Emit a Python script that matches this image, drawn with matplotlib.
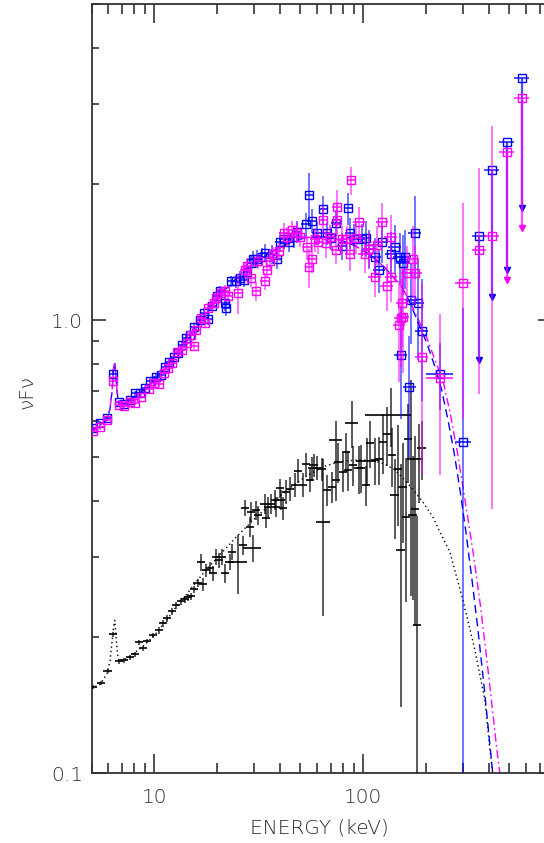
import numpy as np
import matplotlib
matplotlib.use("Agg")
import matplotlib.pyplot as plt
from matplotlib.ticker import NullFormatter, LogLocator

# ---------------- data (energy keV, nuFnu) ----------------
blue_E = [5.09, 5.50, 5.94, 6.35, 6.78, 7.16, 7.65, 8.06, 8.52, 9.03,
          9.56, 10.2, 10.8, 11.3, 11.8, 12.4, 13.0, 13.6, 14.2, 14.8,
          15.5, 16.5, 17.3, 18.1, 18.9, 20.0, 20.7, 21.7, 22.1, 23.3,
          24.6, 25.7, 26.8, 27.8, 29.1, 29.7, 30.9, 32.6, 33.8, 36.5,
          38.8, 39.9, 41.5, 43.9, 46.5, 48.2, 53.2, 55.2, 56.7, 59.9,
          64.4, 66.7, 70.4, 73.9, 78.9, 84.8, 86.2, 90.1, 98.1, 102.9,
          106.9, 113.8, 119.3, 123.2, 136.2, 141.2, 149.9, 154.4, 158.3, 150.9,
          166.2, 169.8, 176.4, 182.4, 190.7, 233.7, 300.8]
blue_F = [0.578, 0.593, 0.609, 0.762, 0.660, 0.654, 0.667, 0.690, 0.690, 0.709,
          0.736, 0.751, 0.758, 0.790, 0.811, 0.829, 0.849, 0.883, 0.913, 0.929,
          0.969, 1.00, 1.04, 1.006, 1.077, 1.13, 1.16, 1.09, 1.064, 1.22,
          1.22, 1.24, 1.23, 1.28, 1.34, 1.37, 1.37, 1.38, 1.41, 1.40,
          1.37, 1.49, 1.51, 1.49, 1.53, 1.57, 1.63, 1.89, 1.66, 1.56,
          1.76, 1.56, 1.52, 1.64, 1.46, 1.77, 1.56, 1.51, 1.51, 1.52,
          1.44, 1.38, 1.29, 1.49, 1.40, 1.45, 1.38, 1.34, 1.38, 0.839,
          0.711, 1.11, 1.56, 1.09, 0.948, 0.762, 0.538]
blue_ferr = ([0.012] * 10 + [0.015] * 10 +
             [0.02, 0.02, 0.025, 0.03, 0.025, 0.025, 0.025, 0.04, 0.04, 0.03] +
             [0.035, 0.035, 0.035, 0.04, 0.04, 0.04, 0.045, 0.045, 0.045, 0.05] +
             [0.05, 0.05, 0.05, 0.05, 0.055, 0.055, 0.06, 0.12, 0.06, 0.06] +
             [0.07, 0.06, 0.06, 0.07, 0.07, 0.08, 0.08, 0.08, 0.08, 0.09] +
             [0.1, 0.1, 0.11, 0.1, 0.12, 0.12, 0.13, 0.15, 0.15, 0.28] +
             [0.3, 0.2, 0.21, 0.25, 0.3, 0.17, 0.98])
blue_xfrac = [0.045] * 30 + [0.05] * 30 + [0.07] * 15 + [0.15, 0.09]

mag_E = [5.09, 5.51, 5.96, 6.35, 6.76, 7.14, 7.63, 8.06, 8.67, 9.40,
         10.0, 10.5, 11.1, 11.6, 12.2, 12.9, 13.5, 14.4, 15.0, 15.5,
         15.9, 16.7, 17.4, 18.1, 19.2, 19.8, 20.9, 21.7, 22.5, 25.1,
         27.0, 27.8, 29.1, 30.8, 31.4, 33.8, 34.5, 35.8, 37.1, 39.3,
         41.5, 43.2, 45.4, 48.0, 49.8, 53.6, 55.2, 56.7, 58.7, 60.9,
         64.4, 66.5, 69.3, 74.5, 75.1, 73.9, 78.9, 83.4, 85.9, 87.5,
         92.7, 95.6, 101.7, 106.9, 113.8, 115.7, 123.2, 129.7, 135.0, 136.2,
         148.4, 150.9, 153.6, 155.3, 162.2, 173.1, 177.6, 190.7, 233.7, 300.8,
         358.9, 411.6]
mag_F = [0.570, 0.580, 0.602, 0.735, 0.650, 0.647, 0.661, 0.658, 0.678, 0.705,
         0.726, 0.724, 0.764, 0.784, 0.804, 0.853, 0.860, 0.890, 0.929, 0.878,
         0.953, 1.01, 0.986, 1.064, 1.09, 1.12, 1.15, 1.16, 1.13, 1.15,
         1.29, 1.32, 1.24, 1.16, 1.35, 1.22, 1.29, 1.35, 1.40, 1.42,
         1.56, 1.53, 1.58, 1.56, 1.53, 1.45, 1.31, 1.37, 1.51, 1.49,
         1.67, 1.48, 1.53, 1.78, 1.67, 1.43, 1.51, 1.51, 1.40, 2.04,
         1.52, 1.65, 1.40, 1.44, 1.25, 1.47, 1.65, 1.19, 1.53, 1.25,
         0.977, 1.01, 1.09, 1.02, 1.27, 1.37, 1.27, 0.832, 0.745, 1.209,
         1.43, 1.533]
mag_ferr = ([0.012] * 10 + [0.015] * 10 +
            [0.02, 0.025, 0.025, 0.025, 0.025, 0.03, 0.03, 0.03, 0.03, 0.1] +
            [0.04, 0.04, 0.045, 0.05, 0.04, 0.045, 0.04, 0.04, 0.04, 0.045] +
            [0.05, 0.05, 0.05, 0.05, 0.05, 0.06, 0.1, 0.07, 0.06, 0.06] +
            [0.07, 0.07, 0.06, 0.09, 0.08, 0.07, 0.07, 0.07, 0.08, 0.07] +
            [0.08, 0.08, 0.09, 0.09, 0.1, 0.1, 0.1, 0.12, 0.12, 0.12] +
            [0.25, 0.22, 0.2, 0.25, 0.15, 0.18, 0.15, 0.45, 0.39, 0.5] +
            [0.52, 0.75])
mag_xfrac = [0.045] * 30 + [0.05] * 30 + [0.07] * 18 + [0.15, 0.09, 0.08, 0.08]

# upper limits
blue_ul_E = [358.9, 411.6, 485.6, 574.6]
blue_ul_F = [1.533, 2.153, 2.474, 3.44]
blue_ul_end = [0.818, 1.129, 1.293, 1.773]
mag_ul_E = [485.6, 574.6]
mag_ul_F = [2.356, 3.101]
mag_ul_end = [1.229, 1.602]

black_E = [5.09, 5.55, 5.97, 6.35, 6.76, 7.16, 7.63, 8.06, 8.46, 8.83,
           9.26, 9.86, 10.5, 11.0, 11.5, 12.2, 12.7, 13.4, 14.0, 14.5,
           15.0, 15.5, 16.1, 16.8, 17.1, 17.7, 18.4, 19.1, 19.8, 20.4,
           21.1, 21.7, 22.9, 23.5, 25.1, 26.6, 27.1, 28.6, 29.1, 29.5,
           30.8, 31.4, 33.7, 34.4, 34.9, 36.1, 37.7, 38.2, 39.8, 40.4,
           41.3, 42.8, 44.6, 47.1, 48.9, 51.7, 53.2, 55.6, 56.7, 57.8,
           59.9, 63.2, 64.4, 66.8, 70.6, 73.9, 74.4, 76.0, 80.3, 82.6,
           84.9, 88.0, 89.5, 94.9, 97.8, 103.4, 104.0, 107.7, 113.8, 119.1,
           124.9, 130.4, 135.9, 137.5, 141.2, 146.1, 150.9, 154.1, 159.9, 164.1,
           170.0, 172.2, 176.4, 181.2, 184.9, 189.9]
black_F = [0.155, 0.158, 0.168, 0.2025, 0.1765, 0.1774, 0.180, 0.183, 0.1944, 0.1886,
           0.1957, 0.2014, 0.2067, 0.2145, 0.2197, 0.2277, 0.2348, 0.2396, 0.2420, 0.2448,
           0.2457, 0.2547, 0.2630, 0.2921, 0.2612, 0.2805, 0.2834, 0.2762, 0.3001, 0.2951,
           0.3001, 0.2762, 0.2926, 0.3079, 0.2926, 0.3187, 0.3847, 0.3498, 0.3776, 0.3139,
           0.381, 0.371, 0.393, 0.366, 0.388, 0.393, 0.401, 0.388, 0.426, 0.401,
           0.385, 0.418, 0.425, 0.433, 0.465, 0.433, 0.481, 0.444, 0.471, 0.479,
           0.473, 0.469, 0.358, 0.422, 0.429, 0.544, 0.444, 0.487, 0.463, 0.513,
           0.467, 0.593, 0.479, 0.471, 0.473, 0.433, 0.490, 0.535, 0.491, 0.493,
           0.539, 0.560, 0.618, 0.504, 0.411, 0.469, 0.311, 0.429, 0.368, 0.546,
           0.493, 0.371, 0.384, 0.212, 0.493, 0.522]
black_ferr = ([0.012] * 12 + [0.018] * 11 + [0.045] +
              [0.035, 0.035, 0.03, 0.04, 0.04, 0.04, 0.04, 0.05, 0.04, 0.04] +
              [0.15, 0.05, 0.04, 0.05, 0.05, 0.07] +
              [0.05] * 10 + [0.06] * 12 + [0.38] +
              [0.08, 0.08, 0.1, 0.1, 0.1, 0.1, 0.1, 0.1, 0.12, 0.1, 0.12, 0.12] +
              [0.1, 0.12, 0.12, 0.12, 0.12, 0.15, 0.15, 0.15, 0.15, 0.2, 0.25] +
              [0.55, 0.25, 0.35, 0.2, 0.5, 0.35, 0.45, 0.74, 0.2, 0.15])
black_xfrac = ([0.045] * 34 + [0.1] + [0.045] * 4 + [0.1] + [0.045] * 22 + [0.075] +
               [0.045] * 2 + [0.075] + [0.045] * 5 + [0.075] + [0.045] * 4 + [0.11] +
               [0.045] * 5 + [0.25] + [0.045] * 13)

# model curves
blue_model_E = [4.98, 5.50, 5.94, 6.14, 6.28, 6.38, 6.45, 6.52, 6.63, 6.74,
                7.24, 8.08, 9.03, 10.08, 11.25, 12.56, 14.03, 15.66, 17.48, 19.52,
                21.79, 24.33, 27.16, 30.33, 33.86, 37.80, 42.21, 47.12, 52.61, 58.74,
                65.58, 73.21, 81.75, 91.27, 101.9, 113.8, 127.0, 138.8, 152.7, 167.3,
                183.4, 201.2, 220.4, 237.2, 254.3, 271.7, 290.2, 310.0, 331.3, 353.9,
                378.1, 399.5, 417.5]
blue_model_F = [0.567, 0.587, 0.605, 0.640, 0.702, 0.785, 0.809, 0.769, 0.695, 0.654,
                0.657, 0.677, 0.705, 0.739, 0.785, 0.835, 0.892, 0.958, 1.028, 1.099,
                1.168, 1.229, 1.287, 1.340, 1.389, 1.432, 1.469, 1.499, 1.522, 1.530,
                1.530, 1.514, 1.492, 1.462, 1.418, 1.368, 1.307, 1.248, 1.186, 1.093,
                0.987, 0.892, 0.789, 0.702, 0.602, 0.512, 0.422, 0.340, 0.267, 0.207,
                0.156, 0.121, 0.0987]
mag_model_E = [4.98, 5.50, 5.94, 6.14, 6.28, 6.38, 6.45, 6.52, 6.63, 6.74,
               7.24, 8.08, 9.03, 10.08, 11.25, 12.56, 14.03, 15.66, 17.48, 19.52,
               21.79, 24.33, 27.16, 30.33, 33.86, 37.80, 42.21, 47.12, 52.61, 58.74,
               65.58, 73.21, 81.75, 91.27, 101.9, 113.8, 127.0, 138.8, 152.7, 167.3,
               183.4, 201.2, 220.4, 241.4, 259.9, 280.8, 299.9, 320.4, 342.3, 365.8,
               390.7, 413.0, 436.3, 453.5]
mag_model_F = [0.567, 0.587, 0.605, 0.640, 0.702, 0.785, 0.809, 0.769, 0.695, 0.654,
               0.657, 0.677, 0.705, 0.739, 0.785, 0.835, 0.892, 0.958, 1.028, 1.099,
               1.168, 1.229, 1.287, 1.340, 1.389, 1.432, 1.469, 1.499, 1.522, 1.530,
               1.530, 1.514, 1.492, 1.462, 1.418, 1.368, 1.307, 1.248, 1.186, 1.099,
               1.003, 0.915, 0.818, 0.731, 0.627, 0.517, 0.428, 0.353, 0.288, 0.229,
               0.177, 0.141, 0.112, 0.0972]
black_model_E = [4.98, 5.50, 5.94, 6.14, 6.28, 6.38, 6.46, 6.56, 6.67, 6.78,
                 7.24, 8.08, 9.03, 10.08, 11.25, 12.56, 14.03, 15.66, 17.48, 19.52,
                 21.79, 24.33, 27.16, 30.33, 33.86, 37.80, 42.21, 47.12, 52.61, 58.74,
                 65.58, 73.21, 81.75, 91.27, 101.9, 113.8, 127.0, 141.8, 158.3, 176.8,
                 193.1, 215.5, 232.8, 259.9, 299.9, 342.3, 382.2, 403.9, 417.5]
black_model_F = [0.1538, 0.1570, 0.1660, 0.1774, 0.1964, 0.2109, 0.2175, 0.1984, 0.1820, 0.1764,
                 0.1782, 0.1846, 0.1924, 0.2024, 0.2153, 0.2312, 0.2457, 0.2626, 0.2791, 0.2953,
                 0.3122, 0.3301, 0.3475, 0.3656, 0.3827, 0.4008, 0.4175, 0.4348, 0.4506, 0.4645,
                 0.4765, 0.4839, 0.4888, 0.4913, 0.4913, 0.4888, 0.4815, 0.4670, 0.4437, 0.4175,
                 0.3967, 0.3674, 0.3404, 0.3074, 0.2407, 0.1866, 0.1447, 0.1121, 0.0987]

x_ticks = [10, 100]
x_ticklabels = ["10", "100"]
y_ticks = [0.1, 1.0]
y_ticklabels = ["0.1", "1.0"]

# ---------------- plotting ----------------
plt.rcParams["font.family"] = ["DejaVu Sans"]
TXT = "#2a2a2a"

fig = plt.figure(figsize=(5.44, 8.43), dpi=100)
ax = fig.add_axes([0.1682, 0.0830, 0.8465, 0.9122])
ax.set_xscale("log")
ax.set_yscale("log")


def data_set(E, F, ferr, xfrac, color, square, err_alpha, z):
    E = np.asarray(E, float)
    F = np.asarray(F, float)
    ferr = np.asarray(ferr, float)
    xfrac = np.asarray(xfrac, float)
    assert len(E) == len(F) == len(ferr) == len(xfrac), (len(E), len(F), len(ferr), len(xfrac))
    dF = F * ferr
    lo = np.minimum(dF, F - 0.02)
    dE = E * xfrac
    ax.errorbar(E, F, yerr=[lo, dF], fmt="none", ecolor=color, elinewidth=1.4,
                alpha=err_alpha, capsize=0, zorder=z)
    ax.errorbar(E, F, xerr=dE, fmt="none", ecolor=color, elinewidth=1.4,
                alpha=min(1.0, err_alpha + 0.2), capsize=0, zorder=z)
    if square:
        ax.plot(E, F, ls="none", marker="s", ms=5.2, mfc="none", mec=color,
                mew=1.0, zorder=z + 0.5)


def upper_limits(E, F, end, color, z):
    E = np.asarray(E, float)
    F = np.asarray(F, float)
    end = np.asarray(end, float)
    ax.vlines(E, end, F, color=color, lw=1.6, alpha=0.7, zorder=z)
    ax.hlines(F, E * 0.92, E * 1.08, color=color, lw=1.4, alpha=0.7, zorder=z)
    ax.plot(E, F, ls="none", marker="s", ms=5.2, mfc="none", mec=color, mew=1.0, zorder=z + 0.5)
    ax.plot(E, end, ls="none", marker="v", ms=5, color=color, zorder=z + 0.5)


# models
ax.plot(black_model_E, black_model_F, color="black", lw=1.0, dashes=(1, 2.2), zorder=2)
ax.plot(blue_model_E, blue_model_F, color="#0000ff", lw=1.0, dashes=(6, 3.5), zorder=2)
ax.plot(mag_model_E, mag_model_F, color="#ff00ff", lw=1.0, dashes=(6, 2.5, 1.2, 2.5), zorder=2)

# data
data_set(black_E, black_F, black_ferr, black_xfrac, "black", False, 0.65, 3)
data_set(blue_E, blue_F, blue_ferr, blue_xfrac, "#0000ff", True, 0.55, 4)
data_set(mag_E, mag_F, mag_ferr, mag_xfrac, "#ff00ff", True, 0.55, 5)
upper_limits(blue_ul_E, blue_ul_F, blue_ul_end, "#0000ff", 4)
upper_limits(mag_ul_E, mag_ul_F, mag_ul_end, "#ff00ff", 5)

ax.set_xlim(5, 800)
ax.set_ylim(0.1, 5.0)

ax.set_xticks(x_ticks)
ax.set_xticklabels(x_ticklabels)
ax.set_yticks(y_ticks)
ax.set_yticklabels(y_ticklabels)
ax.xaxis.set_minor_locator(LogLocator(base=10, subs=np.arange(2, 10)))
ax.yaxis.set_minor_locator(LogLocator(base=10, subs=np.arange(2, 10)))
ax.xaxis.set_minor_formatter(NullFormatter())
ax.yaxis.set_minor_formatter(NullFormatter())

ax.tick_params(which="both", direction="in", top=True, right=True,
               color="#333333", width=1.2, labelcolor=TXT, labelsize=14.5)
ax.tick_params(axis="x", which="major", length=14, pad=11)
ax.tick_params(axis="x", which="minor", length=7)
ax.tick_params(axis="y", which="major", length=10, pad=6)
ax.tick_params(axis="y", which="minor", length=5)
for lab in ax.get_xticklabels() + ax.get_yticklabels():
    lab.set_fontweight("light")

for sp in ax.spines.values():
    sp.set_color("#333333")
    sp.set_linewidth(1.3)

fig.text(0.588, 0.0178, "ENERGY (keV)", ha="center", va="center",
         fontsize=14.5, color=TXT, fontweight="light")
fig.text(0.05, 0.535, "\u03bdF\u03bd", ha="center", va="center", rotation=90,
         fontsize=14.5, color=TXT, fontweight="light")

fig.savefig("out.png", dpi=100)
